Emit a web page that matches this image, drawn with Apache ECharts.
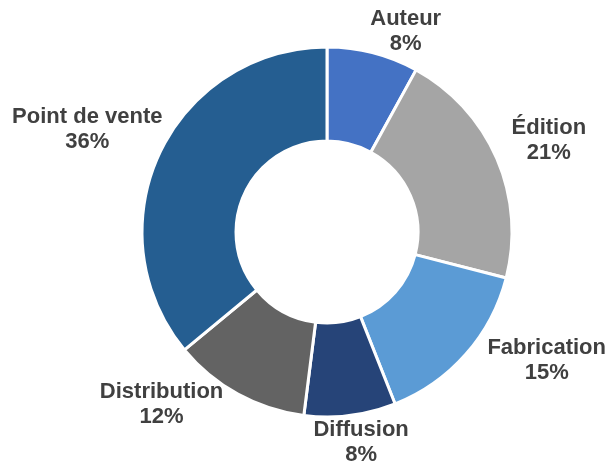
<!DOCTYPE html>
<html>
<head>
<meta charset="utf-8">
<script src="https://cdn.jsdelivr.net/npm/echarts@6/dist/echarts.min.js"></script>
<style>
	html, body { margin: 0; padding: 0; background: #fff; }
	#main { width: 607px; height: 463px; }
</style>
</head>
<body>
<div id="main"></div>
<script>
// données du graphique (parts en %)
let categories = ["Auteur", "Édition", "Fabrication", "Diffusion", "Distribution", "Point de vente"];
let values = [8, 21, 15, 8, 12, 36];
let colors = ["#4472C4", "#A5A5A5", "#5B9BD5", "#264478", "#636363", "#255E91"];

let cx = 327, cy = 232;
let rIn = 91, rOut = 185;

// petits décalages des étiquettes (degrés, pixels) comme dans l'original
let labelTurn = [7, 1, -11, -2, 15, -2];
let labelPush = [0, 12, 8, 2, -3, -2];

let total = values.reduce(function(a, b) { return a + b; }, 0);

let myChart = echarts.init(document.getElementById("main"));

// place chaque étiquette hors de l'anneau, autour de l'angle médian
function placeLabel(params) {
	let i = params.dataIndex;
	let before = 0;
	for(let k = 0; k < i; k++) {
		before += values[k];
	}
	let ang = (before + values[i] / 2) / total * Math.PI * 2 + labelTurn[i] * Math.PI / 180;
	let s = Math.sin(ang), c = Math.cos(ang);
	let w = params.labelRect.width;
	let h = params.labelRect.height - 16; // hauteur utile du texte
	let dist = rOut + 2 + labelPush[i] + (w / 2) * Math.abs(s) + (h / 2) * Math.abs(c);
	return {
		x: cx + dist * s,
		y: cy - dist * c,
		align: "center",
		verticalAlign: "middle"
	};
}

let seriesData = categories.map(function(name, i) {
	return { name: name, value: values[i], itemStyle: { color: colors[i] } };
});

let option = {
	animation: false,
	series: [{
		type: "pie",
		center: [cx, cy],
		radius: [rIn, rOut],
		startAngle: 90,
		clockwise: true,
		avoidLabelOverlap: false,
		itemStyle: {
			borderColor: "#ffffff",
			borderWidth: 3
		},
		label: {
			show: true,
			position: "outside",
			formatter: "{b}\n{c}%",
			fontFamily: "Liberation Sans, Arial, sans-serif",
			fontWeight: "bold",
			fontSize: 22,
			lineHeight: 25,
			color: "#404040"
		},
		labelLine: { show: false },
		labelLayout: placeLabel,
		data: seriesData
	}]
};
myChart.setOption(option);
</script>
</body>
</html>
